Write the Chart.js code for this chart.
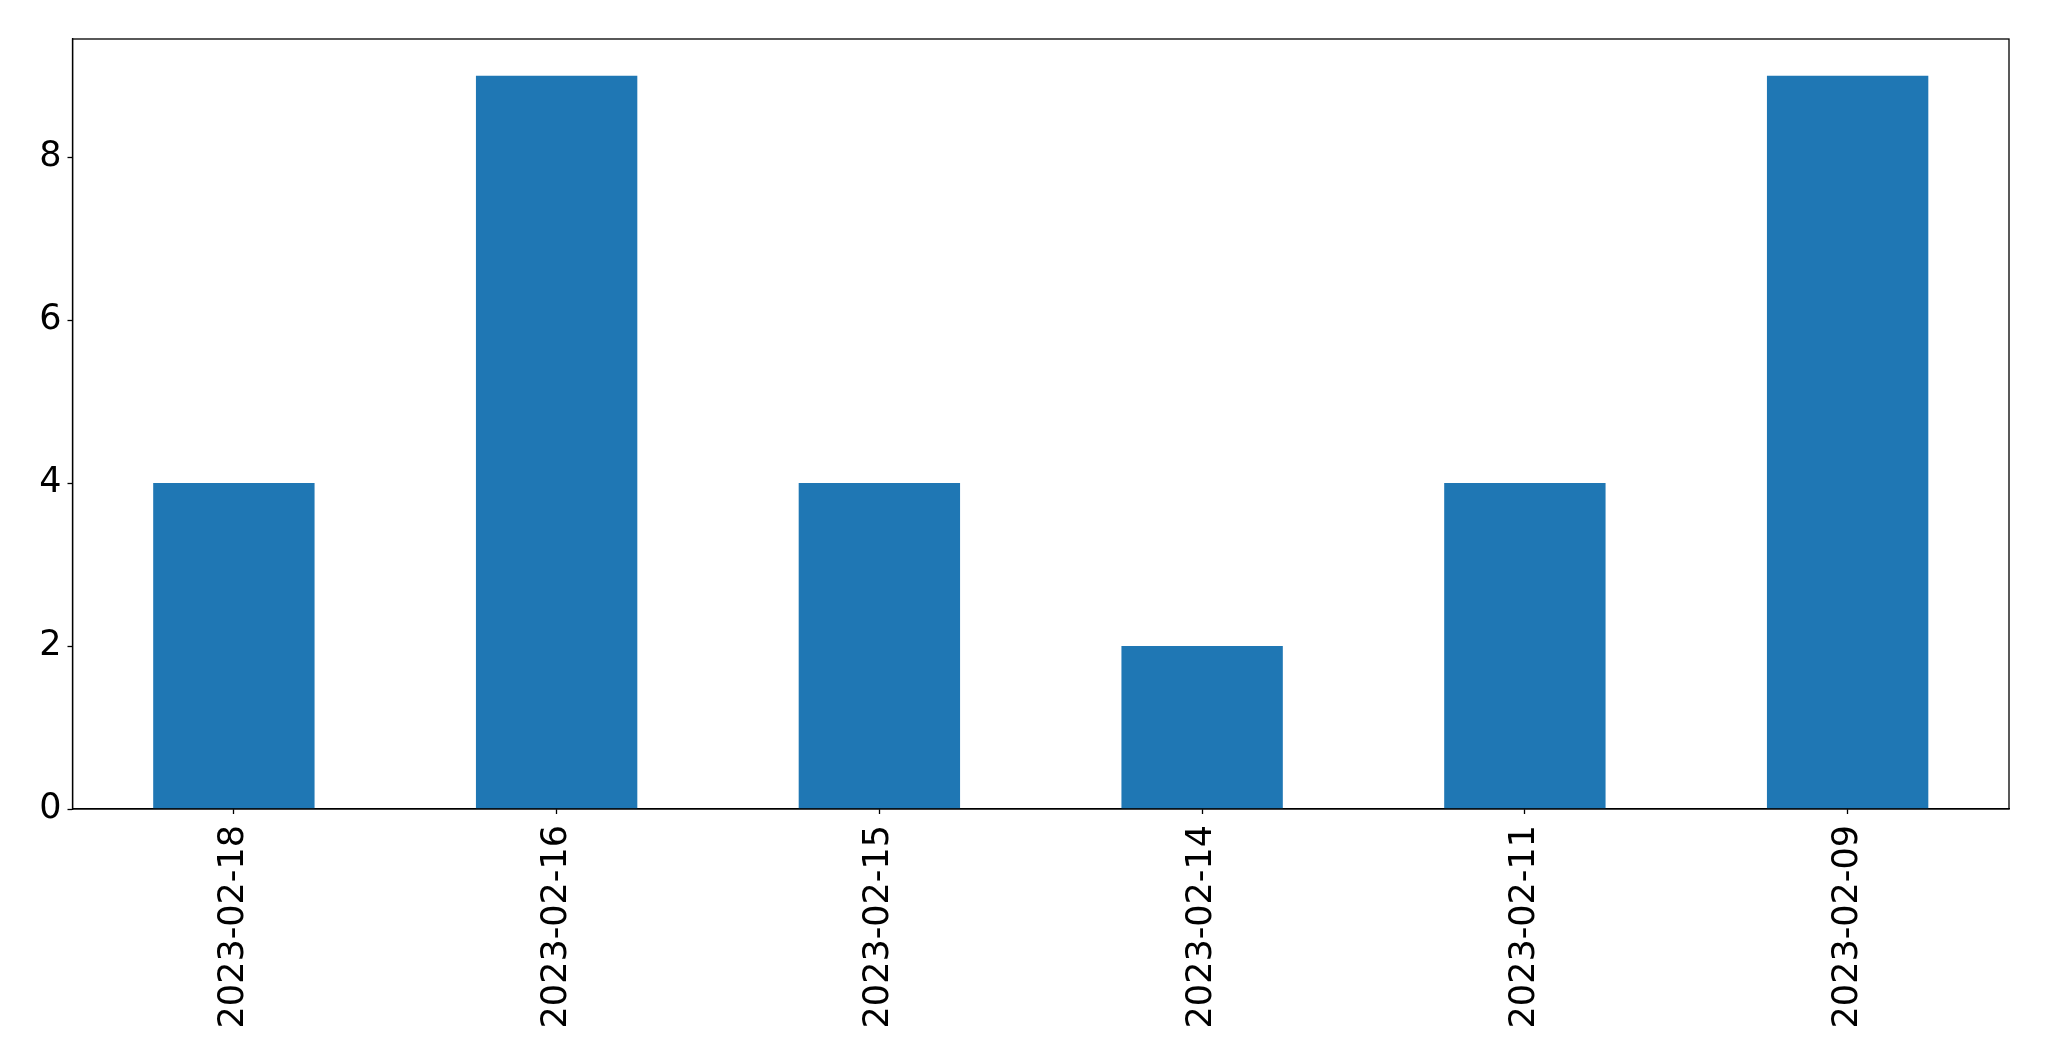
<!DOCTYPE html>
<html>
<head>
<meta charset="utf-8" />
<title>Bar chart</title>
<script src="https://cdn.jsdelivr.net/npm/chart.js@4.4.0/dist/chart.umd.min.js"></script>
<style>
  html, body { margin: 0; padding: 0; background: #fff; }
  #wrap { width: 2049px; height: 1061px; }
</style>
</head>
<body>
<div id="wrap"><canvas id="myChart" width="2049" height="1061"></canvas></div>
<script>
// data
const dates = ['2023-02-18', '2023-02-16', '2023-02-15', '2023-02-14', '2023-02-11', '2023-02-09'];
const counts = [4, 9, 4, 2, 4, 9];
const yTicks = [0, 2, 4, 6, 8];

// box round the plot area, like matplotlib's spines
const frame = {
  id: 'frame',
  afterDraw(chart) {
    const a = chart.chartArea, c = chart.ctx;
    c.save();
    c.strokeStyle = '#000';
    c.lineWidth = 1.3;
    c.strokeRect(a.left, a.top, a.right - a.left, a.bottom - a.top);
    c.restore();
  }
};

const font = { family: 'DejaVu Sans', size: 35 };

new Chart(document.getElementById('myChart'), {
  type: 'bar',
  data: {
    labels: dates,
    datasets: [{
      data: counts,
      backgroundColor: '#1f77b4',
      borderWidth: 0,
      barPercentage: 0.5,
      categoryPercentage: 1.0
    }]
  },
  options: {
    responsive: false,
    animation: false,
    layout: { padding: { left: 0, top: 39, right: 40, bottom: 0 } },
    plugins: { legend: { display: false }, tooltip: { enabled: false } },
    scales: {
      x: {
        offset: true,
        grid: { offset: false, drawOnChartArea: false, drawTicks: true, tickLength: 5, color: '#000', tickWidth: 1.3 },
        border: { display: true, color: '#000', width: 1.3 },
        ticks: { color: '#000', font: font, minRotation: 90, maxRotation: 90, padding: 11, autoSkip: false },
        afterFit(s) { s.height = 252; }
      },
      y: {
        min: 0,
        max: 9.45,
        afterBuildTicks(s) { s.ticks = yTicks.map(v => ({ value: v })); },
        grid: { drawOnChartArea: false, drawTicks: true, tickLength: 5, color: '#000', tickWidth: 1.3 },
        border: { display: true, color: '#000', width: 1.3 },
        ticks: { color: '#000', font: font, padding: 6 },
        afterFit(s) { s.width = 72.5; }
      }
    }
  },
  plugins: [frame]
});
</script>
</body>
</html>
